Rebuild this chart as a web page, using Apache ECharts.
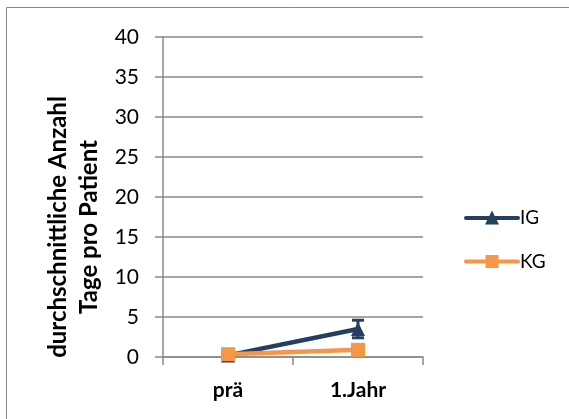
<!DOCTYPE html>
<html><head><meta charset="utf-8">
<script src="https://cdn.jsdelivr.net/npm/echarts@6/dist/echarts.min.js"></script>
<style>html,body{margin:0;padding:0;background:#fff}#c{width:569px;height:419px}</style>
</head><body><div id="c"></div>
<script>
var categories = ['prä', '1.Jahr'];
var igValues = [0.2, 3.5];
var igErrors = [0, 1.1];
var kgValues = [0.35, 0.9];
var yTicks = [0, 5, 10, 15, 20, 25, 30, 35, 40];
var yTitle = 'durchschnittliche Anzahl\nTage pro Patient';

var FONT = 'Lato, "Open Sans", sans-serif';
var NAVY = '#243F60', ORANGE = '#F79646', AXIS = '#898989';

var errData = igValues.map(function (v, i) { return [i, v - igErrors[i], v + igErrors[i]]; });

var IG_ICON = 'path://M2,5.5 L54,5.5 A2,2 0 0 1 54,9.5 L2,9.5 A2,2 0 0 1 2,5.5 Z M21,14 L28,0 L35,14 Z';
var KG_ICON = 'path://M2,5.5 L54,5.5 A2,2 0 0 1 54,9.5 L2,9.5 A2,2 0 0 1 2,5.5 Z M21.5,1 L34.5,1 L34.5,14 L21.5,14 Z';

var chart = echarts.init(document.getElementById('c'));
chart.setOption({
  animation: false,
  backgroundColor: '#fff',
  grid: { left: 163, right: 146, top: 37, bottom: 62 },
  graphic: [
    { type: 'rect', shape: { x: 6.5, y: 7.5, width: 600, height: 600 }, style: { fill: 'none', stroke: '#868686', lineWidth: 1 }, silent: true },
    { type: 'text', x: 74, y: 227, rotation: Math.PI / 2,
      style: { text: yTitle, font: 'bold 24px ' + FONT, fill: '#000', align: 'center', verticalAlign: 'middle', lineHeight: 31 } }
  ],
  legend: {
    orient: 'vertical', left: 459, top: 203, itemGap: 25, itemWidth: 56, itemHeight: 14,
    textStyle: { fontFamily: FONT, fontSize: 19, color: '#000', padding: [0, 0, 0, -5] },
    data: [{ name: 'IG', icon: IG_ICON }, { name: 'KG', icon: KG_ICON }]
  },
  xAxis: {
    type: 'category', data: categories, boundaryGap: true,
    axisLine: { lineStyle: { color: AXIS, width: 1.5 } },
    axisTick: { show: true, length: 8, lineStyle: { color: AXIS, width: 1.5 } },
    axisLabel: { fontFamily: FONT, fontSize: 21, fontWeight: 'bold', color: '#000', margin: 23 }
  },
  yAxis: {
    type: 'value', min: 0, max: 40, interval: 5,
    axisLine: { show: true, lineStyle: { color: AXIS, width: 1.5 } },
    axisTick: { show: true, length: 8, lineStyle: { color: AXIS, width: 1.5 } },
    splitLine: { lineStyle: { color: AXIS, width: 1.5 } },
    axisLabel: { fontFamily: FONT, fontSize: 21, color: '#000', margin: 24,
      formatter: function (v) { return yTicks.indexOf(v) >= 0 ? String(v) : ''; } }
  },
  series: [
    { name: 'IG', type: 'line', data: igValues, symbol: 'triangle', symbolSize: 14,
      lineStyle: { color: NAVY, width: 4.5 }, itemStyle: { color: NAVY }, z: 3 },
    { name: 'IGerr', type: 'custom', data: errData, z: 4,
      renderItem: function (params, api) {
        var x = api.coord([api.value(0), 0])[0];
        var lo = api.coord([api.value(0), api.value(1)])[1];
        var hi = api.coord([api.value(0), api.value(2)])[1];
        if (Math.abs(hi - lo) < 0.5) return null;
        var w = 6;
        var st = { stroke: NAVY, lineWidth: 3 };
        return { type: 'group', children: [
          { type: 'line', shape: { x1: x, y1: lo, x2: x, y2: hi }, style: st },
          { type: 'line', shape: { x1: x - w, y1: lo, x2: x + w, y2: lo }, style: st },
          { type: 'line', shape: { x1: x - w, y1: hi, x2: x + w, y2: hi }, style: st }
        ] };
      } },
    { name: 'KG', type: 'line', data: kgValues, symbol: 'rect', symbolSize: 14,
      lineStyle: { color: ORANGE, width: 4.5 }, itemStyle: { color: ORANGE }, z: 5 }
  ]
});
</script></body></html>
